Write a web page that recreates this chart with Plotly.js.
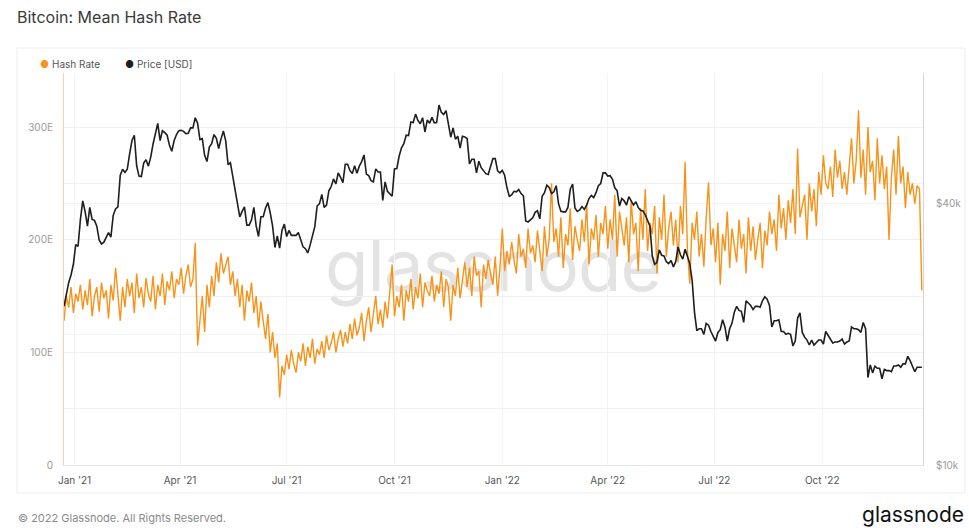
<!DOCTYPE html>
<html>
<head>
<meta charset="utf-8">
<script src="https://cdn.plot.ly/plotly-3.0.1.min.js"></script>
<style>
html,body{margin:0;padding:0;background:#fff;}
#wrap{position:relative;width:969px;height:528px;overflow:hidden;}
#wm{position:absolute;left:64px;width:858px;top:230px;text-align:center;font-family:Inter,"Open Sans",sans-serif;font-size:71px;line-height:71px;color:#e3e3e3;letter-spacing:-1px;}
#chart{position:absolute;left:0;top:0;width:969px;height:528px;}
</style>
</head>
<body>
<div id="wrap"><div id="wm">glassnode</div><div id="chart"></div></div>
<script>
// ---- data (sampled every 2 days from the start date) ----
const startDate = '2020-12-23';
const stepDays = 2;

// Mean hash rate, EH/s
const hashRate = [
128,150,140,158,135,152,145,160,138,155,
142,165,132,150,158,136,162,148,155,130,
160,146,175,150,128,158,140,165,150,162,
135,170,148,158,140,166,152,145,168,138,
160,150,170,142,163,155,172,148,165,160,
175,152,168,178,158,165,197,106,125,150,
118,160,140,168,150,180,162,188,170,178,
185,160,172,150,165,140,160,128,155,145,
162,135,150,122,145,128,112,134,100,118,
95,108,60,88,80,98,85,102,90,82,
100,92,108,88,105,95,112,90,103,98,
110,95,115,102,108,118,100,112,120,105,
118,108,125,112,130,115,122,135,110,128,
140,118,132,150,125,138,122,145,130,155,
178,132,150,140,160,128,155,145,165,138,
158,148,170,140,162,155,150,168,145,160,
152,172,140,165,158,128,160,150,175,148,
165,180,158,175,150,185,168,172,140,178,
165,182,170,160,185,150,175,210,172,190,
178,198,182,170,205,185,192,175,210,188,
195,180,208,190,172,212,185,200,250,198,
210,185,220,175,205,195,228,182,212,200,
190,218,198,232,178,210,200,222,185,215,
205,230,192,218,200,240,185,225,210,195,
220,180,235,205,215,172,228,200,245,190,
215,205,230,170,220,200,240,185,210,225,
195,218,180,230,205,269,190,161,215,200,
225,185,205,176,220,251,195,210,180,215,
160,205,190,225,175,210,195,180,218,192,
205,170,220,190,212,182,200,215,175,208,
195,225,205,218,190,240,210,228,200,235,
215,245,205,281,220,230,240,200,250,225,
245,212,260,240,275,250,245,265,238,280,
255,270,245,260,240,265,290,250,270,315,
255,280,240,300,260,270,235,290,250,275,
245,265,200,255,280,240,292,250,265,228,
260,240,250,232,248,245,155
];

// BTC price, thousand USD
const priceK = [
23.2,24.7,26.3,27.4,29.0,
32.2,31.9,36.8,40.6,38.4,35.5,39.2,36.8,36.6,35.5,33.0,32.3,32.6,33.5,34.3,
33.5,37.6,38.9,39.3,46.5,48.0,47.2,48.0,52.1,55.9,57.5,48.9,46.3,46.2,
49.6,50.5,48.8,51.2,54.9,57.8,61.2,55.9,58.9,58.3,57.5,54.5,52.8,55.9,57.7,58.9,
59.0,58.7,58.0,58.1,59.8,59.8,63.1,61.3,56.2,56.5,51.7,50.0,54.0,55.0,57.7,
56.6,53.6,56.4,58.8,55.8,49.2,49.7,46.4,42.9,40.6,37.3,38.4,39.3,35.7,35.7,
36.7,39.2,35.5,33.6,37.3,37.3,39.1,40.2,38.1,35.5,31.7,33.7,31.6,34.7,35.9,
33.6,34.7,33.8,33.8,33.8,34.3,32.8,31.8,31.5,30.8,32.1,33.6,35.4,39.5,40.0,42.0,
39.2,39.7,42.8,43.8,45.6,44.4,47.1,46.0,44.7,49.3,49.3,47.7,46.9,48.9,47.0,
48.8,50.0,51.8,46.8,46.4,45.2,44.9,48.1,47.3,47.3,40.7,44.9,42.7,42.2,41.6,
48.1,48.2,51.5,53.8,55.0,57.5,57.4,61.7,61.5,64.3,62.2,61.1,63.1,58.5,62.3,61.3,
63.2,61.4,61.5,67.5,64.9,64.2,65.5,60.4,56.9,59.8,56.3,57.2,53.7,57.2,57.0,
56.5,49.4,50.6,50.6,47.1,50.1,48.4,47.6,46.9,46.7,48.6,50.8,50.8,47.6,47.1,
47.7,46.5,43.5,41.6,41.9,42.7,42.6,43.1,42.2,41.7,36.5,36.3,36.7,37.1,38.2,38.5,
36.9,41.6,42.4,44.1,43.6,42.2,42.6,44.0,40.0,38.4,38.3,38.3,39.2,43.2,
44.4,39.1,38.4,38.7,39.4,38.8,39.7,41.1,41.8,41.3,42.4,44.0,44.5,47.1,47.1,
46.3,46.4,45.5,43.5,42.8,39.5,41.1,40.6,39.7,41.5,40.5,39.7,40.4,39.2,38.6,
38.5,37.7,36.6,35.5,30.3,29.0,29.3,31.3,30.4,30.3,29.4,29.1,29.6,28.6,29.4,31.8,
30.5,29.8,31.4,30.2,29.1,26.6,22.5,20.4,20.6,20.6,20.0,21.2,21.0,20.3,19.8,
19.3,20.2,20.5,21.6,20.8,19.3,20.6,21.2,22.5,23.2,22.7,22.6,21.3,23.9,23.6,
23.3,22.8,23.2,23.2,23.1,23.9,24.4,24.1,23.3,20.8,21.5,21.5,21.6,20.3,20.3,20.0,
20.1,20.0,18.8,19.3,21.8,22.4,20.2,19.7,19.4,18.9,19.4,18.9,19.2,19.4,19.4,
19.0,20.3,19.9,19.4,19.1,19.2,19.2,19.3,19.5,19.0,19.2,19.3,20.8,20.6,20.6,
20.5,20.2,21.3,20.6,15.9,17.0,16.3,16.9,16.7,16.7,15.8,16.6,16.5,16.5,16.4,
16.9,16.9,17.0,16.8,17.1,17.1,17.8,17.4,16.8,16.4,16.8,16.8,16.8
];

const seriesNames = ['Hash Rate', 'Price [USD]'];
const leftTickVals = [0, 50, 100, 150, 200, 250, 300];
const leftTickText = ['0', '', '100E', '', '200E', '', '300E'];
const rightTickVals = [10000, 20000, 40000];
const rightTickText = ['$10k', '', '$40k'];
const xRange = ['2020-12-23', '2022-12-26'];

// ---- build ----
function buildDates(n) {
  const out = [];
  const t0 = Date.parse(startDate + 'T00:00:00Z');
  for (let i = 0; i < n; i++) {
    out.push(new Date(t0 + i * stepDays * 86400000).toISOString().slice(0, 10));
  }
  return out;
}
const hashDates = buildDates(hashRate.length);
const priceDates = buildDates(priceK.length);
const priceUsd = priceK.map(v => v * 1000);

const W = 969, H = 528, L = 64, R = 46, T = 73, B = 63;
const px = x => (x - L) / (W - L - R);
const py = y => (H - B - y) / (H - T - B);

const ORANGE = '#f7931a';
const BLACK = '#1e1e1e';

const traces = [
  {x: hashDates, y: hashRate, type: 'scatter', mode: 'lines', name: seriesNames[0],
   line: {color: ORANGE, width: 1.4}, yaxis: 'y', showlegend: false, hoverinfo: 'skip'},
  {x: priceDates, y: priceUsd, type: 'scatter', mode: 'lines', name: seriesNames[1],
   line: {color: BLACK, width: 1.6}, yaxis: 'y2', showlegend: false, hoverinfo: 'skip'}
];

const fontFam = 'Inter, "Open Sans", "Noto Sans", sans-serif';

const layout = {
  width: W, height: H,
  margin: {l: L, r: R, t: T, b: B, pad: 0},
  paper_bgcolor: 'rgba(0,0,0,0)',
  plot_bgcolor: 'rgba(0,0,0,0)',
  font: {family: fontFam},
  title: {text: 'Bitcoin: Mean Hash Rate', xref: 'container', yref: 'container',
          x: 17 / W, xanchor: 'left', y: 1 - 17 / H, yanchor: 'middle',
          font: {size: 16, color: '#3a3a3a', family: fontFam}},
  xaxis: {type: 'date', range: xRange, tickformat: "%b '%y", dtick: 'M3', tick0: '2021-01-01',
          ticks: 'outside', ticklen: 6, tickcolor: 'rgba(0,0,0,0)',
          showgrid: true, gridcolor: '#f3f3f3', gridwidth: 1,
          showline: true, linecolor: '#e6e6e6', linewidth: 1, zeroline: false,
          tickfont: {size: 10, color: '#555'}, fixedrange: true},
  yaxis: {range: [0, 348], tickmode: 'array', tickvals: leftTickVals, ticktext: leftTickText,
          ticks: 'outside', ticklen: 8, tickcolor: 'rgba(0,0,0,0)',
          showgrid: true, gridcolor: '#efefef', gridwidth: 1, zeroline: false,
          showline: true, linecolor: '#f8d2a4', linewidth: 1,
          tickfont: {size: 10, color: '#9a9a9a'}, fixedrange: true},
  yaxis2: {type: 'log', overlaying: 'y', side: 'right', range: [4, 4.903],
           tickmode: 'array', tickvals: rightTickVals, ticktext: rightTickText,
           ticks: 'outside', ticklen: 10, tickcolor: 'rgba(0,0,0,0)',
           showgrid: true, gridcolor: '#f3f3f3', gridwidth: 1, zeroline: false,
           showline: true, linecolor: '#d6d6d6', linewidth: 1,
           tickfont: {size: 10, color: '#9a9a9a'}, fixedrange: true},
  shapes: [
    {type: 'rect', xref: 'paper', yref: 'paper', layer: 'below',
     x0: px(17), x1: px(965), y0: py(493), y1: py(48),
     line: {color: '#ececec', width: 1}, fillcolor: 'rgba(0,0,0,0)'}
  ],
  annotations: [
    {xref: 'paper', yref: 'paper', x: px(38), y: py(64), xanchor: 'left', yanchor: 'middle',
     showarrow: false, text: '<span style="color:' + ORANGE + '">●</span> ' + seriesNames[0],
     font: {size: 10, color: '#555', family: fontFam}},
    {xref: 'paper', yref: 'paper', x: px(123), y: py(64), xanchor: 'left', yanchor: 'middle',
     showarrow: false, text: '<span style="color:' + BLACK + '">●</span> ' + seriesNames[1],
     font: {size: 10, color: '#555', family: fontFam}},
    {xref: 'paper', yref: 'paper', x: px(16), y: py(518), xanchor: 'left', yanchor: 'middle',
     showarrow: false, text: '© 2022 Glassnode. All Rights Reserved.',
     font: {size: 11, color: '#8a8a8a', family: fontFam}},
    {xref: 'paper', yref: 'paper', x: px(966), y: py(514), xanchor: 'right', yanchor: 'middle',
     showarrow: false, text: 'glassnode',
     font: {size: 21, color: '#111', family: fontFam}}
  ],
  hovermode: false
};

Plotly.newPlot('chart', traces, layout, {displayModeBar: false, staticPlot: true});
</script>
</body>
</html>
